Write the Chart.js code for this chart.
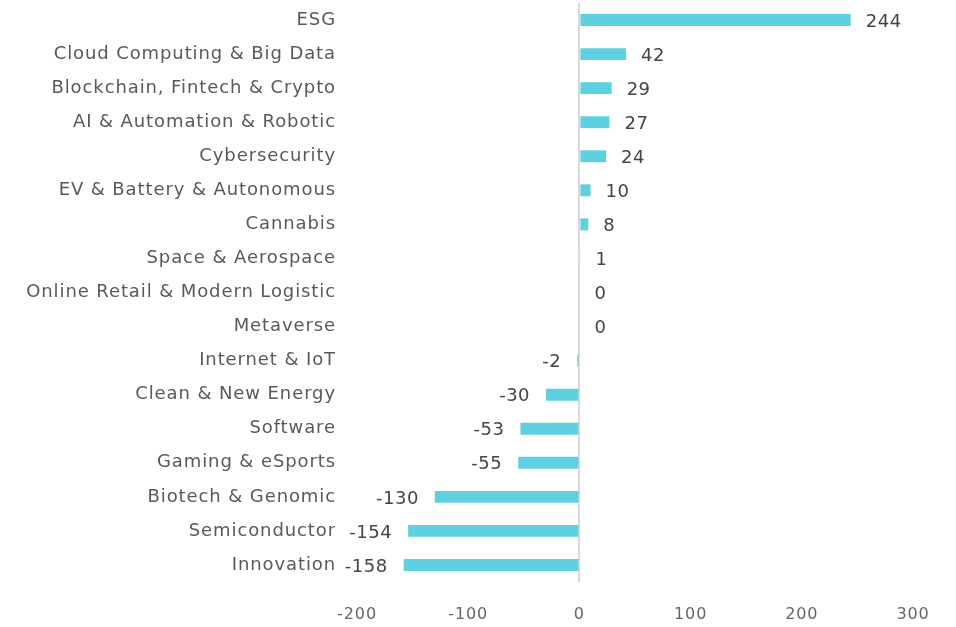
<!DOCTYPE html>
<html><head><meta charset="utf-8">
<script src="https://cdn.jsdelivr.net/npm/chart.js@4"></script>
<style>html,body{margin:0;padding:0;background:#fff}#w{width:956px;height:627px}</style>
</head><body><div id="w"><canvas id="c"></canvas></div>
<script>
const categories = ["ESG","Cloud Computing & Big Data","Blockchain, Fintech & Crypto","AI & Automation & Robotic","Cybersecurity","EV & Battery & Autonomous","Cannabis","Space & Aerospace","Online Retail & Modern Logistic","Metaverse","Internet & IoT","Clean & New Energy","Software","Gaming & eSports","Biotech & Genomic","Semiconductor","Innovation"];
const values = [244,42,29,27,24,10,8,1,0,0,-2,-30,-53,-55,-130,-154,-158];
const xTicks = [-200,-100,0,100,200,300];

const FONT = "'DejaVu Sans', sans-serif";
const SP = '0.9px';
const spacingPlugin = {
  id: 'spacing',
  beforeInit(chart) { chart.ctx.letterSpacing = SP; },
  beforeLayout(chart) { chart.ctx.letterSpacing = SP; },
  beforeDraw(chart) { chart.ctx.letterSpacing = SP; }
};
const labelPlugin = {
  id: 'vlabels',
  afterDatasetsDraw(chart) {
    const ctx = chart.ctx;
    const meta = chart.getDatasetMeta(0);
    ctx.save();
    ctx.letterSpacing = '0.5px';
    ctx.font = "18px " + FONT;
    ctx.fillStyle = "#454545";
    ctx.textBaseline = "middle";
    meta.data.forEach((el, i) => {
      const v = values[i];
      if (v < 0) { ctx.textAlign = "right"; ctx.fillText(String(v), el.x - 16, el.y + 2); }
      else { ctx.textAlign = "left"; ctx.fillText(String(v), el.x + 15, el.y + 2); }
    });
    ctx.restore();
  }
};

new Chart(document.getElementById('c'), {
  type: 'bar',
  data: { labels: categories, datasets: [{ data: values, backgroundColor: '#5fd0df', barPercentage: 0.35, categoryPercentage: 1 }] },
  options: {
    indexAxis: 'y', responsive: true, maintainAspectRatio: false, animation: false,
    layout: { padding: { top: 3, right: 43, bottom: 0, left: 0 } },
    plugins: { legend: { display: false }, tooltip: { enabled: false } },
    scales: {
      x: {
        min: -200, max: 300,
        afterBuildTicks(s) { s.ticks = xTicks.map(v => ({ value: v })); },
        afterFit(s) { s.height = 45; },
        grid: { drawTicks: false, lineWidth: 2, color: c => (c.tick && c.tick.value === 0 ? '#d9d9d9' : 'rgba(0,0,0,0)') },
        border: { display: false },
        ticks: { color: '#666', font: { family: FONT, size: 16 }, padding: 23 }
      },
      y: {
        grid: { display: false, drawTicks: false },
        border: { display: false },
        afterFit(s) { s.width = 357; s.paddingTop = 0; s.paddingBottom = 0; },
        ticks: { color: '#595959', font: { family: FONT, size: 18 }, padding: 21, autoSkip: false }
      }
    }
  },
  plugins: [spacingPlugin, labelPlugin]
});
</script></body></html>
